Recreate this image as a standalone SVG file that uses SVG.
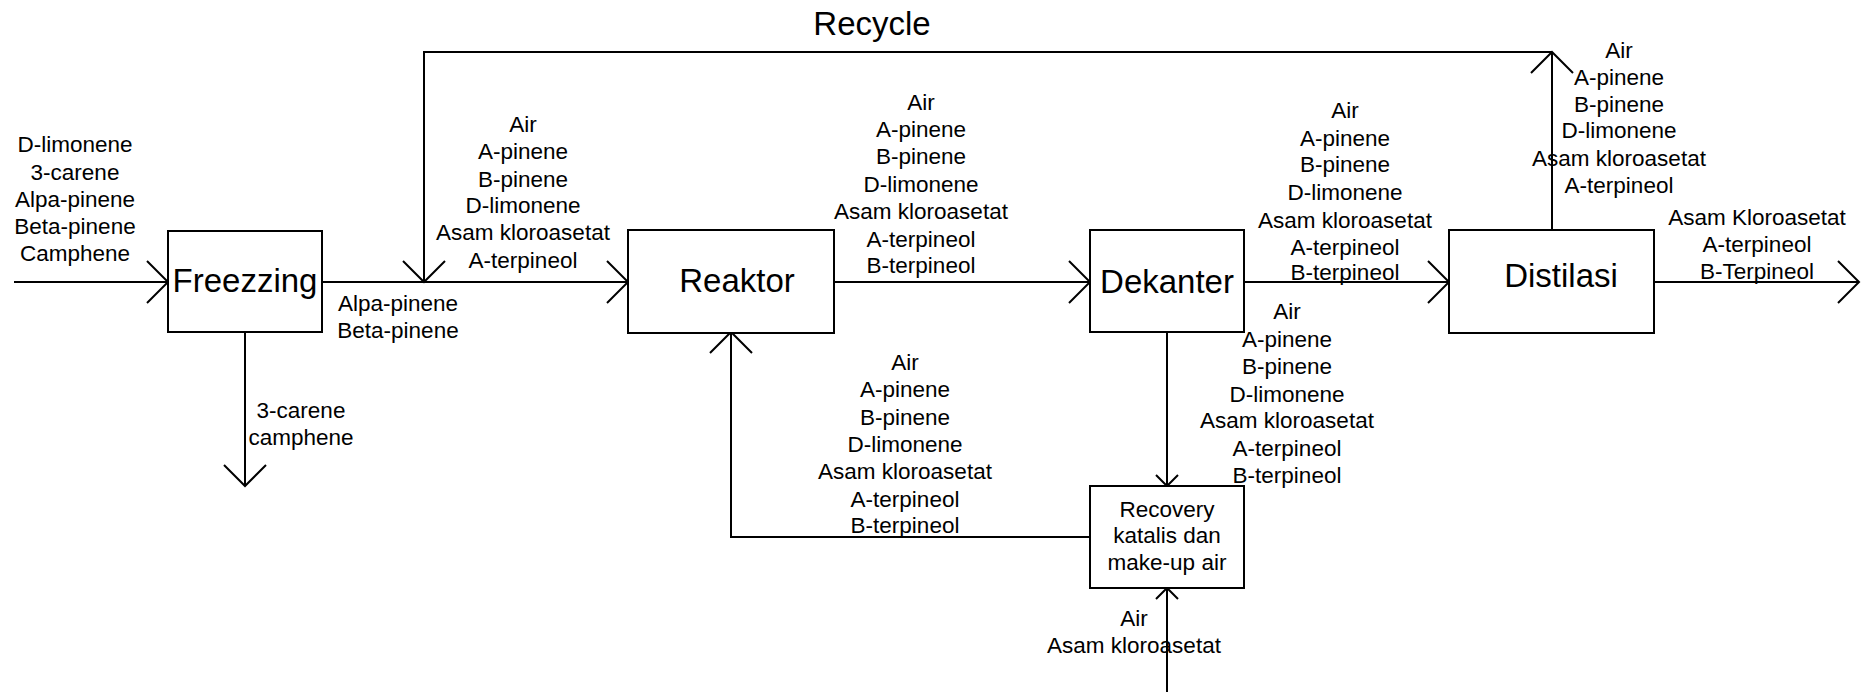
<svg xmlns="http://www.w3.org/2000/svg" width="1870" height="692" viewBox="0 0 1870 692">
<style>
text{font-family:"Liberation Sans",Arial,sans-serif;fill:#000;text-anchor:middle}
.s{font-size:22.5px}
.b{font-size:33px}
.box{fill:#fff;stroke:#000;stroke-width:2}
.ln{fill:none;stroke:#000;stroke-width:2}
</style>
<defs>
<marker id="ah" markerUnits="userSpaceOnUse" markerWidth="46" markerHeight="46" viewBox="-23 -23 46 46" refX="0" refY="0" orient="auto" overflow="visible"><path d="M-21,-21 L0,0 L-21,21" fill="none" stroke="#000" stroke-width="2"/></marker>
<marker id="as" markerUnits="userSpaceOnUse" markerWidth="26" markerHeight="26" viewBox="-13 -13 26 26" refX="0" refY="0" orient="auto" overflow="visible"><path d="M-11,-11 L0,0 L-11,11" fill="none" stroke="#000" stroke-width="2"/></marker>
</defs>
<g id="connectors">
<path class="ln" d="M14,282 H168" marker-end="url(#ah)"/>
<path class="ln" d="M322,282 H628" marker-end="url(#ah)"/>
<path class="ln" d="M1552,230 V52" marker-end="url(#ah)"/>
<path class="ln" d="M1552,52 H424 V282" marker-end="url(#ah)"/>
<path class="ln" d="M834,282 H1090" marker-end="url(#ah)"/>
<path class="ln" d="M1244,282 H1449" marker-end="url(#ah)"/>
<path class="ln" d="M1654,282 H1859" marker-end="url(#ah)"/>
<path class="ln" d="M245,332 V486" marker-end="url(#ah)"/>
<path class="ln" d="M1167,332 V486" marker-end="url(#as)"/>
<path class="ln" d="M1167,692 V588" marker-end="url(#as)"/>
<path class="ln" d="M1090,537 H731 V332" marker-end="url(#ah)"/>
</g>
<g id="labels">
<text class="b" x="872" y="35">Recycle</text>
<text class="s"><tspan x="75" y="152">D-limonene</tspan><tspan x="75" y="180">3-carene</tspan><tspan x="75" y="207">Alpa-pinene</tspan><tspan x="75" y="234">Beta-pinene</tspan><tspan x="75" y="261">Camphene</tspan></text>
<text class="s"><tspan x="398" y="311">Alpa-pinene</tspan><tspan x="398" y="338">Beta-pinene</tspan></text>
<text class="s"><tspan x="301" y="418">3-carene</tspan><tspan x="301" y="445">camphene</tspan></text>
<text class="s"><tspan x="523" y="132">Air</tspan><tspan x="523" y="159">A-pinene</tspan><tspan x="523" y="187">B-pinene</tspan><tspan x="523" y="213">D-limonene</tspan><tspan x="523" y="240">Asam kloroasetat</tspan><tspan x="523" y="268">A-terpineol</tspan></text>
<text class="s"><tspan x="921" y="110">Air</tspan><tspan x="921" y="137">A-pinene</tspan><tspan x="921" y="164">B-pinene</tspan><tspan x="921" y="192">D-limonene</tspan><tspan x="921" y="219">Asam kloroasetat</tspan><tspan x="921" y="247">A-terpineol</tspan><tspan x="921" y="273">B-terpineol</tspan></text>
<text class="s"><tspan x="905" y="370">Air</tspan><tspan x="905" y="397">A-pinene</tspan><tspan x="905" y="425">B-pinene</tspan><tspan x="905" y="452">D-limonene</tspan><tspan x="905" y="479">Asam kloroasetat</tspan><tspan x="905" y="507">A-terpineol</tspan><tspan x="905" y="533">B-terpineol</tspan></text>
<text class="s"><tspan x="1134" y="626">Air</tspan><tspan x="1134" y="653">Asam kloroasetat</tspan></text>
<text class="s"><tspan x="1287" y="319">Air</tspan><tspan x="1287" y="347">A-pinene</tspan><tspan x="1287" y="374">B-pinene</tspan><tspan x="1287" y="402">D-limonene</tspan><tspan x="1287" y="428">Asam kloroasetat</tspan><tspan x="1287" y="456">A-terpineol</tspan><tspan x="1287" y="483">B-terpineol</tspan></text>
<text class="s"><tspan x="1345" y="118">Air</tspan><tspan x="1345" y="146">A-pinene</tspan><tspan x="1345" y="172">B-pinene</tspan><tspan x="1345" y="200">D-limonene</tspan><tspan x="1345" y="228">Asam kloroasetat</tspan><tspan x="1345" y="255">A-terpineol</tspan><tspan x="1345" y="280">B-terpineol</tspan></text>
<text class="s"><tspan x="1619" y="58">Air</tspan><tspan x="1619" y="85">A-pinene</tspan><tspan x="1619" y="112">B-pinene</tspan><tspan x="1619" y="138">D-limonene</tspan><tspan x="1619" y="166">Asam kloroasetat</tspan><tspan x="1619" y="193">A-terpineol</tspan></text>
<text class="s"><tspan x="1757" y="225">Asam Kloroasetat</tspan><tspan x="1757" y="252">A-terpineol</tspan><tspan x="1757" y="279">B-Terpineol</tspan></text>
</g>
<g id="freezzing"><rect class="box" x="168" y="231" width="154" height="101"/><text class="b" x="245" y="292">Freezzing</text></g>
<g id="reaktor"><rect class="box" x="628" y="230" width="206" height="103"/><text class="b" x="737" y="292">Reaktor</text></g>
<g id="dekanter"><rect class="box" x="1090" y="230" width="154" height="102"/><text class="b" x="1167" y="293">Dekanter</text></g>
<g id="distilasi"><rect class="box" x="1449" y="230" width="205" height="103"/><text class="b" x="1561" y="287">Distilasi</text></g>
<g id="recovery"><rect class="box" x="1090" y="486" width="154" height="102"/><text class="s"><tspan x="1167" y="517">Recovery</tspan><tspan x="1167" y="543">katalis dan</tspan><tspan x="1167" y="570">make-up air</tspan></text></g>
</svg>
